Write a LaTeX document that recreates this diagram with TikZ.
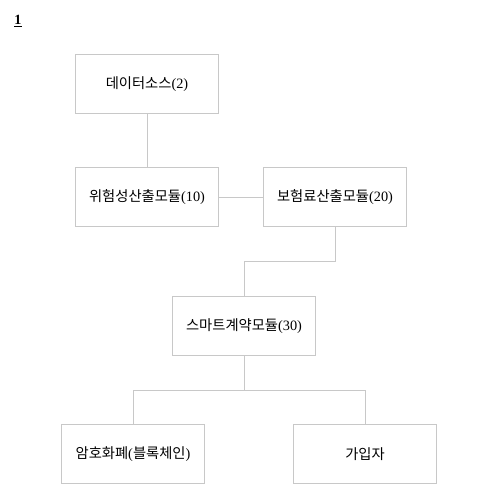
\documentclass[tikz,border=0pt]{standalone}
\usepackage{fontspec}
\setmainfont{Liberation Serif}
\newfontfamily\kr{Noto Sans CJK KR}
\usetikzlibrary{calc}

\definecolor{linegray}{RGB}{200,200,200}

\begin{document}
\begin{tikzpicture}[x=0.03cm, y=-0.03cm,
    blok/.style={draw=linegray, line width=0.6pt, minimum width=4.29cm,
                 minimum height=1.77cm, font=\fontsize{12.2}{14}\selectfont},
    verbinding/.style={draw=linegray, line width=0.6pt}]
        % kader
        \useasboundingbox (0,0) rectangle (477,504);

        % figuurnummer
        \node[font=\bfseries\fontsize{12}{14}\selectfont] (fignr) at (18,21) {\underline{1}};

        % blokken
        \node[blok] (bron)   at (147,84)  {{\kr 데이터소스}(2)};
        \node[blok] (risico) at (147,197) {{\kr 위험성산출모듈}(10)};
        \node[blok] (premie) at (335,197) {{\kr 보험료산출모듈}(20)};
        \node[blok] (smart)  at (244,326) {{\kr 스마트계약모듈}(30)};
        \node[blok] (munt)   at (133,454) {{\kr 암호화폐}({\kr 블록체인})};
        \node[blok] (lid)    at (365,454) {{\kr 가입자}};

        % knooppunten
        \coordinate (k1) at (335,261);
        \coordinate (k2) at (244,390);

        % verbindingen
        \draw[verbinding] (bron) -- (risico);
        \draw[verbinding] (risico) -- (premie);
        \draw[verbinding] (premie) -- (k1) -| (smart);
        \draw[verbinding] (smart) -- (k2);
        \draw[verbinding] (k2) -| (munt);
        \draw[verbinding] (k2) -| (lid);
\end{tikzpicture}
\end{document}
